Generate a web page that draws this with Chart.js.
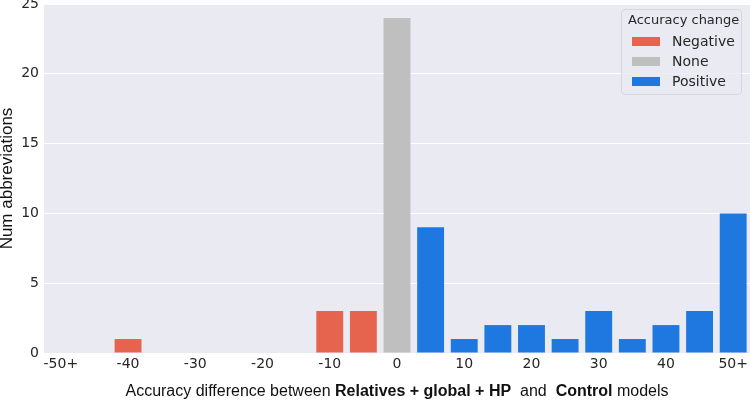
<!DOCTYPE html>
<html>
<head>
<meta charset="utf-8">
<script src="https://cdn.jsdelivr.net/npm/chart.js@4"></script>
<style>
  body { margin: 0; background: #fff; }
  #wrap { position: relative; width: 750px; height: 401px; }
  #xTitle {
    position: absolute; left: 44px; width: 706px; top: 382px;
    text-align: center; font: 16px "Liberation Sans", Arial, sans-serif; color: #111;
    white-space: pre;
  }
  #legend {
    position: absolute; left: 621px; top: 9px; width: 121px; height: 86px;
    box-sizing: border-box; border: 1px solid #d6d6de; border-radius: 4px;
    background: rgba(234, 234, 242, 0.8);
    font: 14px "DejaVu Sans", sans-serif; color: #262626; white-space: nowrap;
  }
  #legend .title { position: absolute; left: 6px; top: 2px; font-size: 13px; }
  #legend .item { position: absolute; left: 10px; height: 18px; line-height: 18px; }
  #legend .sw { display: inline-block; width: 28px; height: 9px; vertical-align: middle; margin-right: 12px; margin-top: -2px; }
</style>
</head>
<body>
<div id="wrap">
  <canvas id="chart" width="750" height="401"></canvas>
  <div id="xTitle"></div>
  <div id="legend"></div>
</div>
<script>
const categories = ["-50+", "-45", "-40", "-35", "-30", "-25", "-20", "-15", "-10", "-5",
  "0", "5", "10", "15", "20", "25", "30", "35", "40", "45", "50+"];
const negative = [0, 0, 1, 0, 0, 0, 0, 0, 3, 3, null, null, null, null, null, null, null, null, null, null, null];
const none = [null, null, null, null, null, null, null, null, null, null, 24, null, null, null, null, null, null, null, null, null, null];
const positive = [null, null, null, null, null, null, null, null, null, null, null, 9, 1, 2, 2, 1, 3, 1, 2, 3, 10];
const seriesNames = ["Negative", "None", "Positive"];
const seriesColors = ["#e6644e", "#bfbfbf", "#1f78e0"];
const yTicks = [0, 5, 10, 15, 20, 25];

const ctx = document.getElementById("chart").getContext("2d");

// grey plot background like seaborn darkgrid
const plotBg = {
  id: "plotBg",
  beforeDraw(chart) {
    const a = chart.chartArea;
    chart.ctx.save();
    chart.ctx.fillStyle = "#eaeaf2";
    chart.ctx.fillRect(a.left, a.top, a.right - a.left, a.bottom - a.top);
    chart.ctx.restore();
  }
};

const chart = new Chart(ctx, {
  type: "bar",
  data: {
    labels: categories,
    datasets: [negative, none, positive].map((d, i) => ({
      label: seriesNames[i],
      data: d,
      backgroundColor: seriesColors[i],
      barPercentage: 0.8,
      categoryPercentage: 1
    }))
  },
  options: {
    responsive: false,
    animation: false,
    layout: { padding: { top: 4, right: 0, left: 0, bottom: 0 } },
    plugins: { legend: { display: false }, tooltip: { enabled: false } },
    scales: {
      x: {
        stacked: true,
        grid: { display: false },
        border: { display: false },
        ticks: {
          autoSkip: false, maxRotation: 0, padding: -5,
          color: "#262626",
          font: { family: "DejaVu Sans", size: 14 },
          callback: (v, i) => (i % 2 === 0 ? categories[i] : "")
        },
        afterFit(s) { s.height = 48; }
      },
      y: {
        stacked: true,
        min: 0, max: 25,
        afterBuildTicks(s) { s.ticks = yTicks.map(v => ({ value: v })); },
        grid: { color: "#ffffff", lineWidth: 1, drawTicks: false },
        border: { display: false },
        ticks: { padding: 5, color: "#262626", font: { family: "DejaVu Sans", size: 14 } },
        title: {
          display: true, text: "Num abbreviations", color: "#111",
          font: { family: "Liberation Sans", size: 17, lineHeight: 0.85 }, padding: 0
        },
        afterFit(s) { s.width = 44; s.paddingTop = 0; s.paddingBottom = 0; }
      }
    }
  },
  plugins: [plotBg]
});

document.getElementById("xTitle").innerHTML =
  "Accuracy difference between <b>Relatives + global + HP</b>  and  <b>Control</b> models";

const legend = document.getElementById("legend");
legend.innerHTML = '<div class="title">Accuracy change</div>' +
  seriesNames.map((n, i) =>
    `<div class="item" style="top:${22 + i * 20}px"><span class="sw" style="background:${seriesColors[i]}"></span>${n}</div>`
  ).join("");
</script>
</body>
</html>
